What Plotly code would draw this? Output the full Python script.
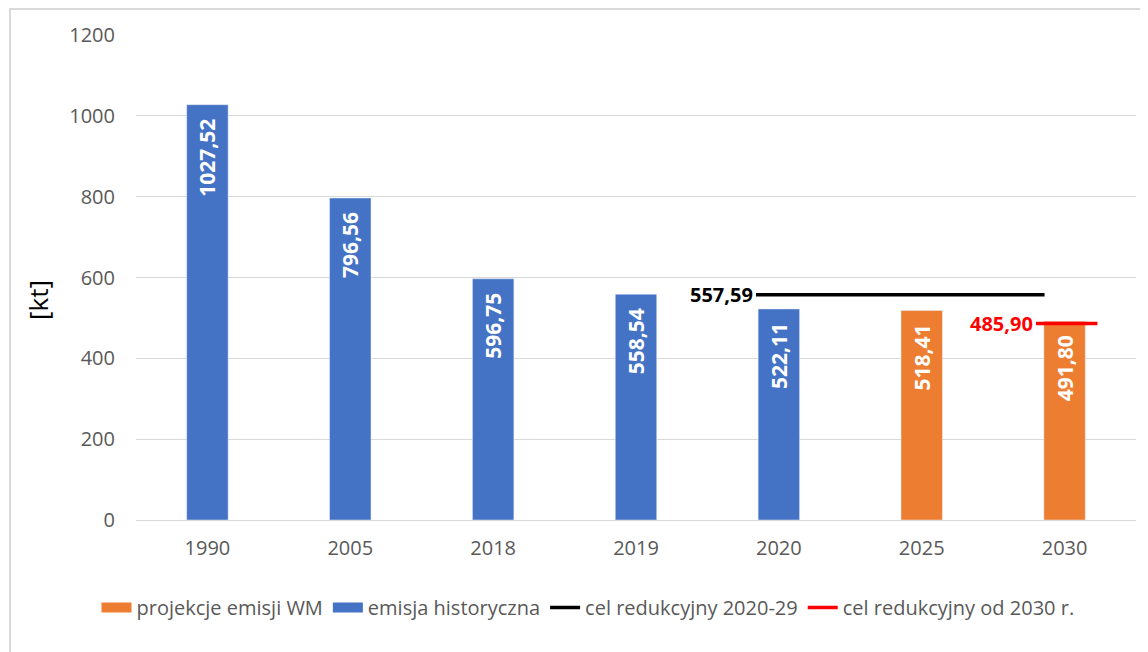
import plotly.graph_objects as go

years = ["1990", "2005", "2018", "2019", "2020", "2025", "2030"]
historical = [1027.52, 796.56, 596.75, 558.54, 522.11, None, None]
projection = [None, None, None, None, None, 518.41, 491.80]
target_2020_29 = 557.59
target_2030 = 485.90

BLUE = "#4472C4"
ORANGE = "#ED7D31"
GRAY = "#595959"
FONT = "Open Sans"

def fmt(v):
    return f"{v:.2f}".replace(".", ",")

idx = list(range(len(years)))

fig = go.Figure()

px_ = [i for i, v in zip(idx, projection) if v is not None]
py_ = [v for v in projection if v is not None]
hx = [i for i, v in zip(idx, historical) if v is not None]
hy = [v for v in historical if v is not None]

label_font = dict(color="white", size=21, family=FONT, weight="bold")
PAD = "\u00a0\u00a0"

fig.add_trace(go.Bar(
    x=px_, y=py_, width=0.29, marker_color=ORANGE, name="projekcje emisji WM",
    text=[fmt(v) + PAD for v in py_], textposition="inside", insidetextanchor="end",
    textangle=-90, constraintext="none", textfont=label_font, showlegend=False,
))
fig.add_trace(go.Bar(
    x=hx, y=hy, width=0.29, marker_color=BLUE, name="emisja historyczna",
    text=[fmt(v) + PAD for v in hy], textposition="inside", insidetextanchor="end",
    textangle=-90, constraintext="none", textfont=label_font, showlegend=False,
))

# legend entries for bars (wide rectangle swatches)
fig.add_trace(go.Scatter(x=[None], y=[None], mode="lines", line=dict(color=ORANGE, width=11),
                         name="projekcje emisji WM"))
fig.add_trace(go.Scatter(x=[None], y=[None], mode="lines", line=dict(color=BLUE, width=11),
                         name="emisja historyczna"))

i2020 = years.index("2020")
i2025 = years.index("2025")
i2030 = years.index("2030")
bx = [i2020 - 0.16, i2025 + 0.86]
rx = [i2030 - 0.2, i2030 + 0.23]

fig.add_trace(go.Scatter(
    x=bx, y=[target_2020_29] * 2, mode="lines", line=dict(color="black", width=3.5),
    name="cel redukcyjny 2020-29",
))
fig.add_trace(go.Scatter(
    x=rx, y=[target_2030] * 2, mode="lines", line=dict(color="#FF0000", width=3.5),
    name="cel redukcyjny od 2030 r.",
))

fig.add_annotation(x=bx[0], y=target_2020_29, text=fmt(target_2020_29), showarrow=False,
                   xanchor="right", xshift=-1,
                   font=dict(color="black", size=20, family=FONT, weight="bold"))
fig.add_annotation(x=rx[0], y=target_2030, text=fmt(target_2030), showarrow=False,
                   xanchor="right", xshift=-1,
                   font=dict(color="#FF0000", size=20, family=FONT, weight="bold"))

# y-axis title
fig.add_annotation(x=-0.098, y=0.4536, xref="paper", yref="paper", text="[kt]", showarrow=False,
                   textangle=-90, xanchor="center", yanchor="middle",
                   font=dict(size=26, color="black", family=FONT))

# outer frame
fig.add_shape(type="rect", xref="paper", yref="paper", x0=-0.126, x1=1.2, y0=-0.5, y1=1.0536,
              line=dict(color="#D9D9D9", width=2), fillcolor="rgba(0,0,0,0)", layer="below")

fig.update_layout(
    width=1140, height=644,
    margin=dict(l=128, r=12, t=27, b=132),
    paper_bgcolor="white", plot_bgcolor="white",
    font=dict(family=FONT, color=GRAY, size=20),
    barmode="overlay",
    showlegend=True,
    legend=dict(orientation="h", x=0.452, xanchor="center", y=-0.14, yanchor="top",
                font=dict(size=20, color=GRAY, family=FONT), itemwidth=30,
                traceorder="normal"),
    xaxis=dict(tickmode="array", tickvals=idx, ticktext=years, range=[-0.5, 6.5],
               showgrid=False, zeroline=False, showline=False,
               ticks="", ticklabelstandoff=14, tickfont=dict(size=20, color=GRAY)),
    yaxis=dict(range=[0, 1200], tickvals=[0, 200, 400, 600, 800, 1000, 1200],
               showgrid=True, gridcolor="#D9D9D9", gridwidth=1.3, zeroline=True,
               zerolinecolor="#D9D9D9", zerolinewidth=1.3,
               ticks="", ticklabelstandoff=20, tickfont=dict(size=20, color=GRAY)),
)

fig.write_html("out.html")
